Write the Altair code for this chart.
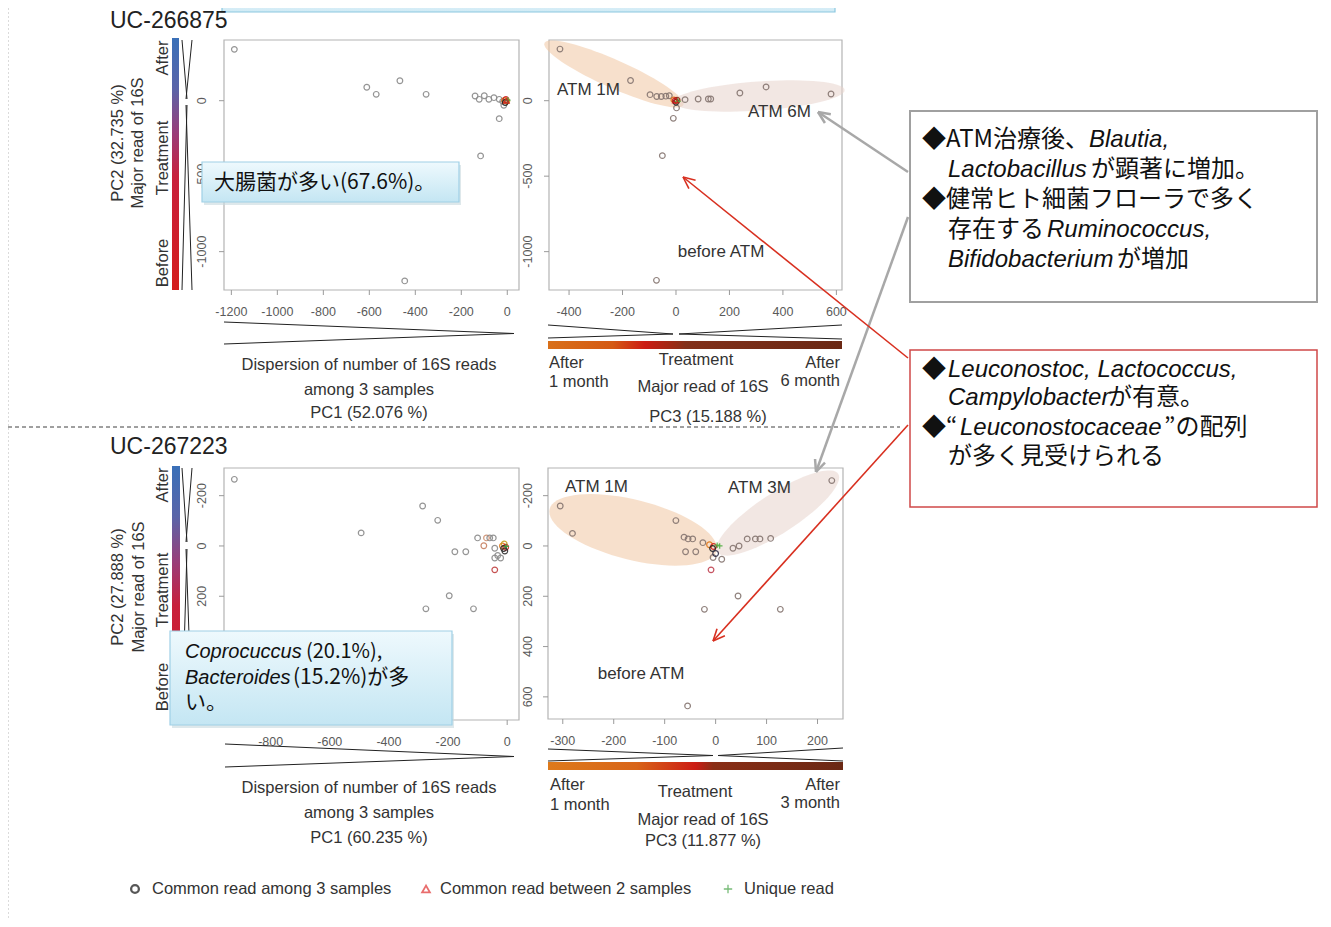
import math
import numpy as np
import pandas as pd
import altair as alt

# ---------------- data ----------------
# UC-266875, PC1 (x) vs PC2 (y)
TL_PC1 = [-1187, -611, -570, -467, -353, -446, -116, -35, -140, -122, -100, -80, -58, -35, -20, -15,
          -12, -6, -2, -9, 2, -4]
TL_PC2 = [340, 89, 42, 132, 42, -1194, -366, -119, 31, 9, 33, 9, 20, 9, -5, -30,
          2, 8, -3, -12, 4, 0]
TL_KIND = ["c3"] * 20 + ["u", "c2"]
TL_COL = ["#8a8a8a"] * 16 + ["#e07818", "#d02020", "#c8a020", "#202020", "#40a040", "#d02020"]

# UC-266875, PC3 (x) vs PC2 (y)
TR_PC3 = [-434, -170, -97, -72, -55, -38, -25, 2, -10, -51, -73, 34, 83, 121, 130, 239, 337, 580,
          -8, -3, 4, 0, 7, -2]
TR_PC2 = [342, 134, 40, 28, 28, 30, 33, -48, -117, -364, -1190, 7, 11, 11, 11, 51, 91, 44,
          5, 0, 3, -10, -4, 2]
TR_KIND = ["c3"] * 22 + ["u", "c2"]
TR_COL = ["#857570"] * 18 + ["#e07818", "#d02020", "#8a2e16", "#202020", "#50b040", "#d02020"]

# UC-267223, PC1 (x) vs PC2 (y, downward)
BL_PC1 = [-923, -286, -235, -494, -177, -140, -196, -275, -114, -100, -79, -70, -59, -47, -42, -42, -22, -32,
          -42, -16, -10, -5, -12, -3, -8]
BL_PC2 = [-265, -159, -102, -52, 23, 23, 198, 250, 250, -32, -1, -32, -32, -32, 9, 48, 48, 38,
          95, 0, -8, 5, 10, 2, 20]
BL_KIND = ["c3"] * 23 + ["u", "c3"]
BL_COL = ["#8a8a8a"] * 10 + ["#c88060", "#d09070", "#8a8a8a", "#8a8a8a", "#8a8a8a", "#8a8a8a", "#8a8a8a", "#8a8a8a",
          "#c04040", "#e07818", "#c8a020", "#d02020", "#202020", "#40a040", "#303030"]

# UC-267223, PC3 (x) vs PC2 (y, downward)
BR_PC3 = [-305, -281, -78, -62, -54, -45, -59, -39, -25, -5, 12, 34, 46, 62, 78, 87, 108, 228, 44, -22, 127, -55,
          -9, -12, -4, 3, 8, -6, 0]
BR_PC2 = [-159, -50, -101, -35, -28, -28, 23, 23, -13, 46, 53, 9, 0, -28, -28, -28, -30, -260, 199, 252, 252, 636,
          95, -5, 2, -3, 0, 10, 30]
BR_KIND = ["c3"] * 25 + ["u", "u", "c3", "c3"]
BR_COL = ["#857570"] * 22 + ["#c04050", "#e07818", "#d02020", "#50b040", "#50b040", "#202020", "#303048"]

# tick labels
TL_XT = [-1200, -1000, -800, -600, -400, -200, 0]
TL_YT = [0, -500, -1000]
TR_XT = [-400, -200, 0, 200, 400, 600]
BL_XT = [-800, -600, -400, -200, 0]
BL_YT = [-200, 0, 200, 400, 600]
BR_XT = [-300, -200, -100, 0, 100, 200]

# ---------------- layout helpers ----------------
OFF = 8
W, H = 1315, 911


def X(v):
    return v - OFF


def Y(v):
    return v - OFF


FONT = "Liberation Sans, Arial, sans-serif"
JFONT = "Noto Sans CJK JP, sans-serif"
LAB = 16.5
ONE = pd.DataFrame({"d": [0]})
layers = []


def text(x, y, s, size=LAB, align="left", angle=0, italic=False, color="#333333", font=FONT, weight="normal"):
    kw = dict(text=s, fontSize=size, align=align, baseline="middle", color=color, font=font, fontWeight=weight)
    if angle:
        kw["angle"] = angle
    if italic:
        kw["fontStyle"] = "italic"
    layers.append(alt.Chart(ONE).mark_text(**kw).encode(x=alt.value(X(x)), y=alt.value(Y(y))))


def seg(x1, y1, x2, y2, color="#222222", width=1.0, dash=None, opacity=1.0):
    kw = dict(color=color, strokeWidth=width, opacity=opacity)
    if dash:
        kw["strokeDash"] = dash
    layers.append(alt.Chart(ONE).mark_rule(**kw).encode(
        x=alt.value(X(x1)), y=alt.value(Y(y1)), x2=alt.value(X(x2)), y2=alt.value(Y(y2))))


def rect(x1, y1, x2, y2, fill=None, stroke=None, sw=1.0, opacity=1.0):
    kw = dict(opacity=opacity)
    if fill is not None:
        kw["fill"] = fill
    else:
        kw["fillOpacity"] = 0
    if stroke is not None:
        kw["stroke"] = stroke
        kw["strokeWidth"] = sw
    layers.append(alt.Chart(ONE).mark_rect(**kw).encode(
        x=alt.value(X(x1)), y=alt.value(Y(y1)), x2=alt.value(X(x2)), y2=alt.value(Y(y2))))


def arrow(x1, y1, x2, y2, color, width, head=13, spread=24):
    seg(x1, y1, x2, y2, color, width)
    dx, dy = x1 - x2, y1 - y2
    n = math.hypot(dx, dy)
    ux, uy = dx / n, dy / n
    for s in (spread, -spread):
        a = math.radians(s)
        hx = ux * math.cos(a) - uy * math.sin(a)
        hy = ux * math.sin(a) + uy * math.cos(a)
        seg(x2, y2, x2 + hx * head, y2 + hy * head, color, width)


def grad(stops, vertical):
    return {"gradient": "linear", "stops": [{"offset": o, "color": c} for o, c in stops],
            "x1": 0, "y1": 0, "x2": 0 if vertical else 1, "y2": 1 if vertical else 0}


def ellipse_path(ratio, ang, n=72):
    t = np.linspace(0, 2 * np.pi, n, endpoint=False)
    ex, ey = np.cos(t), ratio * np.sin(t)
    a = math.radians(ang)
    rx = ex * math.cos(a) - ey * math.sin(a)
    ry = ex * math.sin(a) + ey * math.cos(a)
    return "M" + " L".join(f"{p:.4f},{q:.4f}" for p, q in zip(rx, ry)) + " Z"


PLUS = "M-1,0L1,0M0,-1L0,1"
SHAPES = {"c3": "circle", "c2": "triangle-up", "u": PLUS}


def panel(xs, ys, kinds, cols, xdom, ydom, box, xticks, yticks, ylab_x, reverse, ellipses):
    x0, y0, x1, y1 = box
    xsc = alt.Scale(domain=xdom, range=[X(x0), X(x1)], nice=False, zero=False)
    if reverse:
        ysc = alt.Scale(domain=ydom, range=[Y(y0), Y(y1)], nice=False, zero=False)
    else:
        ysc = alt.Scale(domain=ydom, range=[Y(y1), Y(y0)], nice=False, zero=False)
    rect(x0, y0, x1, y1, stroke="#b4b4b4", sw=1.2)
    for cx, cy, L, Wd, ang, col in ellipses:
        df = pd.DataFrame({"cx": [cx], "cy": [cy]})
        layers.append(alt.Chart(df).mark_point(
            shape=ellipse_path(Wd / L, ang), size=L * L, filled=True, color=col, opacity=0.55, strokeWidth=0
        ).encode(x=alt.X("cx:Q", scale=xsc, axis=None), y=alt.Y("cy:Q", scale=ysc, axis=None)))
    tx = pd.DataFrame({"v": xticks, "lab": [str(v) for v in xticks]})
    layers.append(alt.Chart(tx).mark_rule(color="#9a9a9a", strokeWidth=1).encode(
        x=alt.X("v:Q", scale=xsc, axis=None), y=alt.value(Y(y1)), y2=alt.value(Y(y1 + 5))))
    layers.append(alt.Chart(tx).mark_text(fontSize=12.5, font=FONT, color="#5a5a5a", baseline="middle").encode(
        x=alt.X("v:Q", scale=xsc, axis=None), y=alt.value(Y(y1 + 22)), text="lab:N"))
    ty = pd.DataFrame({"v": yticks, "lab": [str(v) for v in yticks]})
    layers.append(alt.Chart(ty).mark_rule(color="#9a9a9a", strokeWidth=1).encode(
        y=alt.Y("v:Q", scale=ysc, axis=None), x=alt.value(X(x0 - 5)), x2=alt.value(X(x0))))
    layers.append(alt.Chart(ty).mark_text(fontSize=12.5, font=FONT, color="#5a5a5a", angle=270,
                                          baseline="middle").encode(
        y=alt.Y("v:Q", scale=ysc, axis=None), x=alt.value(X(ylab_x)), text="lab:N"))
    df = pd.DataFrame({"x": xs, "y": ys, "shape": [SHAPES[k] for k in kinds], "col": cols})
    layers.append(alt.Chart(df).mark_point(filled=False, size=32, strokeWidth=1.2, opacity=0.9).encode(
        x=alt.X("x:Q", scale=xsc, axis=None), y=alt.Y("y:Q", scale=ysc, axis=None),
        shape=alt.Shape("shape:N", scale=None), color=alt.Color("col:N", scale=None)))


VBAR = [(0, "#3a70b8"), (0.2, "#5a64a8"), (0.38, "#9a3c78"), (0.55, "#c8203c"), (1, "#d41c1c")]
HBAR_T = [(0, "#d9701a"), (0.22, "#d45a14"), (0.33, "#cc1c14"), (0.43, "#9a2a14"), (0.47, "#82301a"), (1, "#6a2814")]
HBAR_B = [(0, "#dd7a1c"), (0.3, "#d86418"), (0.5, "#cc1c14"), (0.56, "#8a2e16"), (1, "#6a2814")]

# ---------------- page frame ----------------
rect(222, -5, 835, 12, fill=grad([(0, "#eef8fc"), (1, "#cfeaf5")], True), stroke="#8cc8e0", sw=1.2)
seg(8, 0, 8, 927, color="#b8b8b8", width=1, dash=[2, 2])
seg(8, 427, 900, 427, color="#404040", width=1, dash=[4, 3])

# ---------------- top row: UC-266875 ----------------
text(110, 21, "UC-266875", size=23, color="#222222")
panel(TL_PC1, TL_PC2, TL_KIND, TL_COL, [-1232, 51], [-1254, 402], (224, 40, 519, 290),
      TL_XT, TL_YT, 201.5, False, [])
panel(TR_PC3, TR_PC2, TR_KIND, TR_COL, [-475, 621], [-1254, 402], (549, 40, 842, 290),
      TR_XT, TL_YT, 527.5, False,
      [(-232, 177, 152, 28, 24, "#f0c6a2"), (310, 31, 172, 29, -4, "#e8d4cc")])
text(557, 90, "ATM 1M", size=17)
text(748, 112, "ATM 6M", size=17)
text(721, 252, "before ATM", size=17, align="center")

rect(172, 38, 179, 290, fill=grad(VBAR, True))
seg(182, 40, 187, 99)
seg(192, 40, 186, 99)
seg(187, 105, 182, 290)
seg(186, 105, 192, 290)
text(163, 58, "After", angle=270, align="center")
text(163, 158, "Treatment", angle=270, align="center")
text(163, 263, "Before", angle=270, align="center")
text(118, 143, "PC2 (32.735 %)", angle=270, align="center")
text(138, 143, "Major read of 16S", angle=270, align="center")

seg(224, 322, 514, 333.5)
seg(224, 344, 514, 333.5)
text(369, 365, "Dispersion of number of 16S reads", align="center")
text(369, 390, "among 3 samples", align="center")
text(369, 413, "PC1 (52.076 %)", align="center")

seg(548, 325, 673, 334)
seg(548, 338, 673, 334)
seg(679, 334, 842, 325)
seg(679, 334, 842, 339)
rect(548, 341, 842, 349, fill=grad(HBAR_T, False))
text(549, 363, "After")
text(549, 382, "1 month")
text(696, 360, "Treatment", align="center")
text(703, 387, "Major read of 16S", align="center")
text(840, 363, "After", align="right")
text(840, 381, "6 month", align="right")
text(708, 417, "PC3 (15.188 %)", align="center")

# ---------------- bottom row: UC-267223 ----------------
text(110, 447, "UC-267223", size=23, color="#222222")
panel(BL_PC1, BL_PC2, BL_KIND, BL_COL, [-958, 40], [-310, 692], (224, 468, 519, 720),
      BL_XT, BL_YT, 202, True, [])
panel(BR_PC3, BR_PC2, BR_KIND, BR_COL, [-329, 250], [-310, 688], (548, 468, 843, 719),
      BR_XT, BL_YT, 528, True,
      [(-162, -64, 172, 60, 14, "#f0c6a2"), (122, -131, 144, 40, -33, "#e8d4cc")])
text(565, 487, "ATM 1M", size=17)
text(728, 488, "ATM 3M", size=17)
text(641, 674, "before ATM", size=17, align="center")

rect(172, 466, 180, 720, fill=grad(VBAR, True))
seg(182, 468, 187, 542)
seg(192, 468, 186, 542)
seg(187, 549, 182, 720)
seg(186, 549, 192, 720)
text(163, 485, "After", angle=270, align="center")
text(163, 590, "Treatment", angle=270, align="center")
text(163, 687, "Before", angle=270, align="center")
text(118, 587, "PC2 (27.888 %)", angle=270, align="center")
text(139, 587, "Major read of 16S", angle=270, align="center")

seg(225, 744, 514, 756.5)
seg(225, 767, 514, 756.5)
text(369, 788, "Dispersion of number of 16S reads", align="center")
text(369, 813, "among 3 samples", align="center")
text(369, 838, "PC1 (60.235 %)", align="center")

seg(548, 749, 713, 755.5)
seg(548, 761, 713, 755.5)
seg(718, 755.5, 843, 748)
seg(718, 755.5, 843, 761)
rect(548, 762, 843, 770, fill=grad(HBAR_B, False))
text(550, 785, "After")
text(550, 805, "1 month")
text(695, 792, "Treatment", align="center")
text(840, 785, "After", align="right")
text(840, 803, "3 month", align="right")
text(703, 820, "Major read of 16S", align="center")
text(703, 841, "PC3 (11.877 %)", align="center")

# ---------------- callout boxes on the panels ----------------
rect(204, 165, 461, 205, fill="#c8d8de", opacity=0.6)
rect(202, 162, 459, 202, fill=grad([(0, "#eef9fd"), (1, "#c4e6f3")], True), stroke="#9fd0e6", sw=1.2)
text(214, 183, "大腸菌が多い(67.6%)。", size=21, font=JFONT, color="#111111")

rect(172, 634, 454, 728, fill="#c8d8de", opacity=0.6)
rect(170, 631, 452, 725, fill=grad([(0, "#eef9fd"), (1, "#c4e6f3")], True), stroke="#9fd0e6", sw=1.2)
text(185, 652, "Coprocuccus", size=20, italic=True, color="#111111")
text(306, 652, "(20.1%),", size=20, font=JFONT, color="#111111")
text(185, 678, "Bacteroides", size=20, italic=True, color="#111111")
text(293, 678, "(15.2%)が多", size=21, font=JFONT, color="#111111")
text(185, 703, "い。", size=21, font=JFONT, color="#111111")

# ---------------- right-hand text boxes ----------------
JS, IS = 24, 24
rect(910, 111, 1317, 302, fill="white", stroke="#a0a0a0", sw=2)
text(922, 140, "◆ATM治療後、", size=JS, font=JFONT, color="#111111")
text(1089, 140, "Blautia,", size=IS, italic=True, color="#111111")
text(948, 170, "Lactobacillus", size=IS, italic=True, color="#111111")
text(1091, 170, "が顕著に増加。", size=JS, font=JFONT, color="#111111")
text(922, 200, "◆健常ヒト細菌フローラで多く", size=JS, font=JFONT, color="#111111")
text(948, 230, "存在する", size=JS, font=JFONT, color="#111111")
text(1047, 230, "Ruminococcus,", size=IS, italic=True, color="#111111")
text(948, 260, "Bifidobacterium", size=IS, italic=True, color="#111111")
text(1117, 260, "が増加", size=JS, font=JFONT, color="#111111")

rect(910, 350, 1317, 507, fill="white", stroke="#d04848", sw=1.5)
text(922, 370, "◆", size=JS, font=JFONT, color="#111111")
text(948, 370, "Leuconostoc, Lactococcus,", size=IS, italic=True, color="#111111")
text(948, 398, "Campylobacter", size=IS, italic=True, color="#111111")
text(1108, 398, "が有意。", size=JS, font=JFONT, color="#111111")
text(922, 428, "◆“", size=JS, font=JFONT, color="#111111")
text(960, 428, "Leuconostocaceae", size=IS, italic=True, color="#111111")
text(1164, 428, "”の配列", size=JS, font=JFONT, color="#111111")
text(948, 457, "が多く見受けられる", size=JS, font=JFONT, color="#111111")

# ---------------- arrows ----------------
arrow(908, 172, 818, 112, "#a8a8a8", 2.5)
arrow(908, 217, 816, 472, "#a8a8a8", 2.5)
arrow(908, 358, 683, 177, "#d83020", 1.6)
arrow(908, 425, 713, 641, "#d83020", 1.6)

# ---------------- legend ----------------
layers.append(alt.Chart(ONE).mark_point(shape="circle", filled=False, color="#111111", strokeWidth=2.3, size=60)
              .encode(x=alt.value(X(135)), y=alt.value(Y(889))))
text(152, 889, "Common read among 3 samples")
layers.append(alt.Chart(ONE).mark_point(shape="triangle-up", filled=False, color="#e03030", strokeWidth=1.8, size=60)
              .encode(x=alt.value(X(426)), y=alt.value(Y(889))))
text(440, 889, "Common read between 2 samples")
layers.append(alt.Chart(ONE).mark_point(shape=PLUS, filled=False, color="#40a040", strokeWidth=1.3, size=70)
              .encode(x=alt.value(X(728)), y=alt.value(Y(889))))
text(744, 889, "Unique read")

chart = alt.layer(*layers).resolve_scale(x="independent", y="independent").properties(
    width=W, height=H, autosize=alt.AutoSizeParams(type="none"), padding=0, background="white"
).configure_view(strokeWidth=0)

chart.save("out.html", embed_options={"renderer": "svg", "actions": False})
